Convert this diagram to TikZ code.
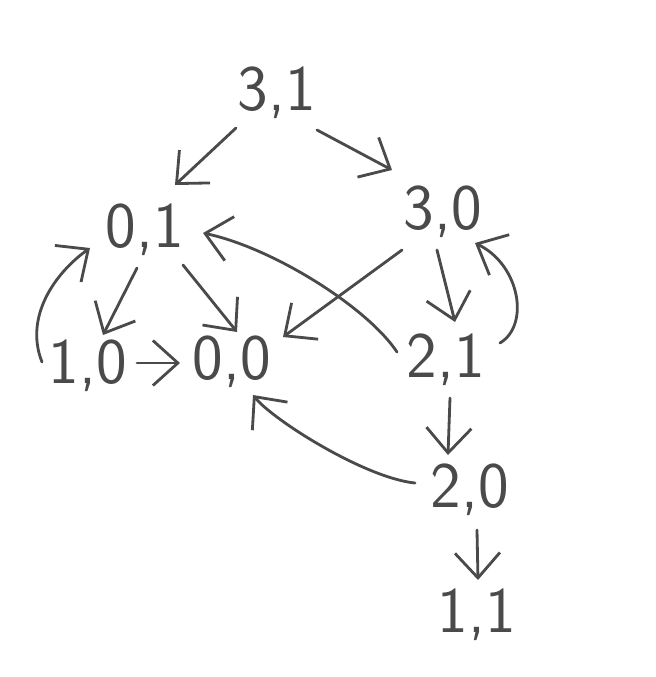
\documentclass[tikz,border=0pt]{standalone}
\usetikzlibrary{arrows.meta,calc}
\definecolor{ink}{HTML}{4A4A4A}
\tikzset{
  st/.style={font=\sffamily\fontsize{37}{41}\selectfont, text=ink, inner sep=0pt},
  ed/.style={draw=ink, line width=1.6pt, line cap=round, line join=round,
    -{Straight Barb[length=5mm,width=9mm,line width=1.6pt]}}
}
\begin{document}
\begin{tikzpicture}[x=0.02cm,y=-0.02cm]
\useasboundingbox (0,0) rectangle (656,677);
\node[st] (n31) at (277,93) {3,1};
\node[st] (n01) at (145,230) {0,1};
\node[st] (n30) at (443,212) {3,0};
\node[st] (n10) at (88,366) {1,0};
\node[st] (n00) at (232,362) {0,0};
\node[st] (n21) at (446,360) {2,1};
\node[st] (n20) at (470,490) {2,0};
\node[st] (n11) at (477,615) {1,1};

\draw[ed] ($(n31)+(-41,35)$) -- ($(n01)+(30,-45)$);
\draw[ed] ($(n31)+(40,37)$) -- ($(n30)+(-51,-42)$);
\draw[ed] ($(n01)+(-8,38)$) -- ($(n10)+(15,-31)$);
\draw[ed] ($(n01)+(38,35)$) -- ($(n00)+(5,-30)$);
\draw[ed] ($(n30)+(-41,38)$) -- ($(n00)+(51,-25)$);
\draw[ed] ($(n30)+(-6,38)$) -- ($(n21)+(9,-38)$);
\draw[ed] ($(n21)+(-49,-8)$) .. controls +(-30,-45) and +(70,15) .. ($(n01)+(58,3)$);
\draw[ed] ($(n21)+(54,-17)$) .. controls +(30,-18) and +(45,22) .. ($(n30)+(32,31)$);
\draw[ed] ($(n10)+(-46,-4)$) .. controls +(-18,-45) and +(-35,25) .. ($(n01)+(-55,18)$);
\draw[ed] ($(n10)+(49,-3)$) -- ($(n00)+(-52,1)$);
\draw[ed] ($(n21)+(4,38)$) -- ($(n20)+(-22,-35)$);
\draw[ed] ($(n20)+(-55,-7)$) .. controls +(-50,-5) and +(20,25) .. ($(n00)+(21,33)$);
\draw[ed] ($(n20)+(7,40)$) -- ($(n11)+(1,-35)$);
\end{tikzpicture}
\end{document}
